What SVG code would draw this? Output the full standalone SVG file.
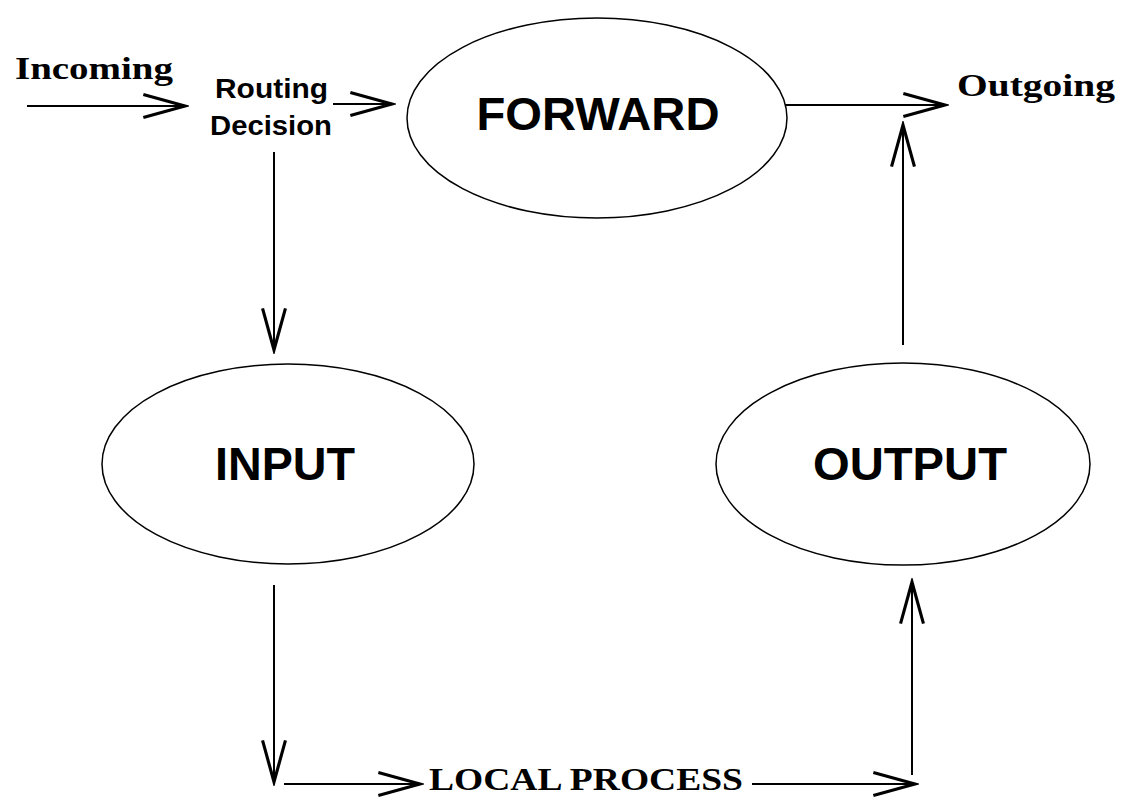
<svg xmlns="http://www.w3.org/2000/svg" width="1124" height="798" viewBox="0 0 1124 798">
<defs>
<marker id="arr" markerUnits="userSpaceOnUse" markerWidth="50" markerHeight="30" viewBox="-44 -14 48 28" refX="0" refY="0" orient="auto">
<path d="M-40,-11 L0,0 L-40,11" fill="none" stroke="#000" stroke-width="3"/>
</marker>
<style>
.n{fill:#fff;stroke:#000;stroke-width:1.5}
.c{fill:none;stroke:#000;stroke-width:2;marker-end:url(#arr)}
.big{font-family:"Liberation Sans",Arial,sans-serif;font-weight:bold;font-size:47px;text-anchor:middle}
.sm{font-family:"Liberation Sans",Arial,sans-serif;font-weight:bold;font-size:27px}
.ser{font-family:"Liberation Serif","Times New Roman",serif;font-weight:bold;font-size:31px}
</style>
</defs>
<rect width="1124" height="798" fill="#fff"/>
<g id="forward"><ellipse class="n" cx="597" cy="118" rx="190" ry="100"/><text class="big" x="598" y="130" textLength="243" lengthAdjust="spacingAndGlyphs">FORWARD</text></g>
<g id="input"><ellipse class="n" cx="288" cy="464" rx="186" ry="100"/><text class="big" x="285" y="480" textLength="140" lengthAdjust="spacingAndGlyphs">INPUT</text></g>
<g id="output"><ellipse class="n" cx="903" cy="464" rx="187" ry="101"/><text class="big" x="910" y="480" textLength="194" lengthAdjust="spacingAndGlyphs">OUTPUT</text></g>
<g id="labels">
<text class="ser" x="15" y="79" textLength="158" lengthAdjust="spacingAndGlyphs">Incoming</text>
<text class="sm" x="215" y="98" textLength="113" lengthAdjust="spacingAndGlyphs">Routing</text>
<text class="sm" x="210" y="135" textLength="122" lengthAdjust="spacingAndGlyphs">Decision</text>
<text class="ser" x="957" y="96" textLength="158" lengthAdjust="spacingAndGlyphs">Outgoing</text>
<text class="ser" x="429" y="790" textLength="314" lengthAdjust="spacingAndGlyphs">LOCAL PROCESS</text>
</g>
<g id="connectors">
<path class="c" d="M27,106 L185,106"/>
<path class="c" d="M333,104 L392,104"/>
<path class="c" d="M785,105 L945,105"/>
<path class="c" d="M274,152 L274,350"/>
<path class="c" d="M274,585 L274,782"/>
<path class="c" d="M284,784 L420,784"/>
<path class="c" d="M752,784 L915,784"/>
<path class="c" d="M912,775 L912,582"/>
<path class="c" d="M903,345 L903,125"/>
</g>
</svg>
